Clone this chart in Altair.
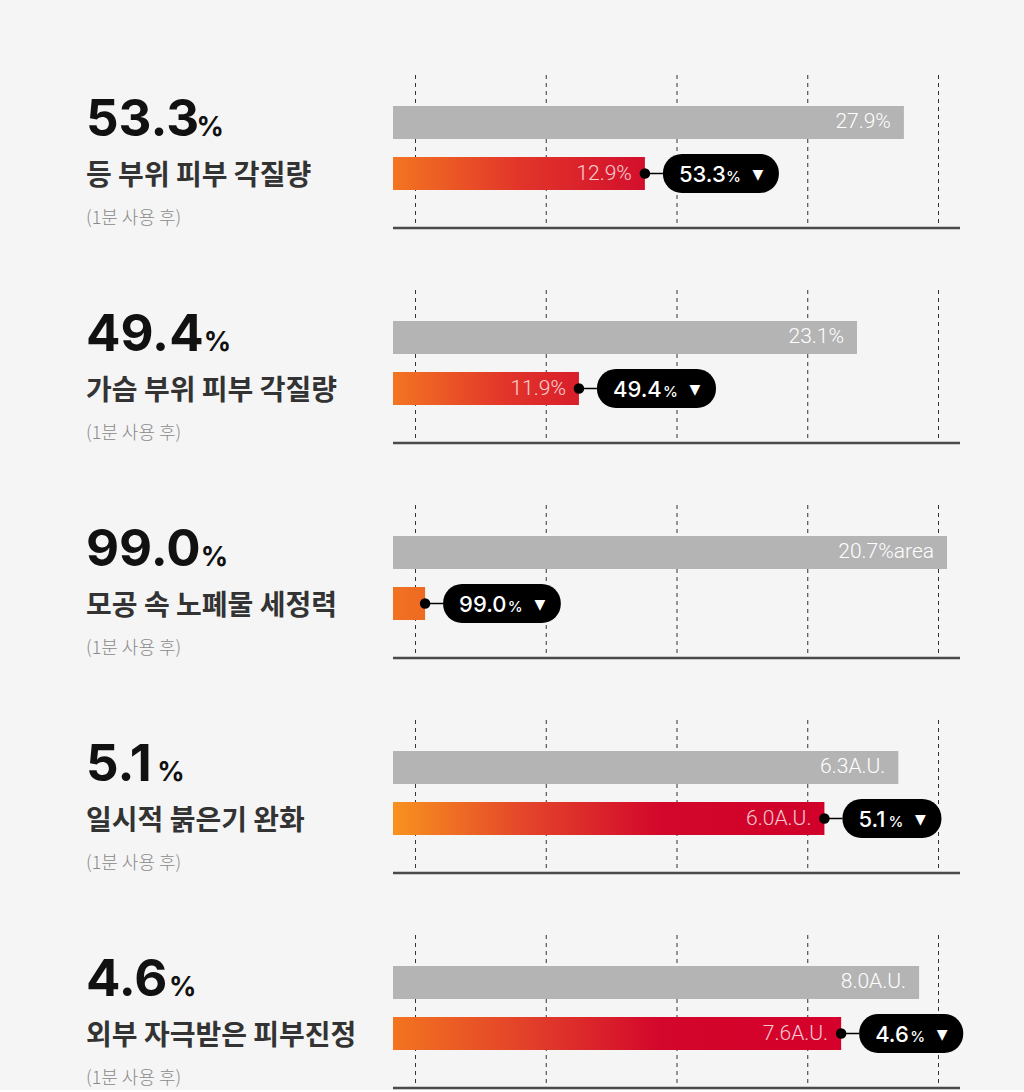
import altair as alt
import pandas as pd

# ---------------- data ----------------
metrics = ["등 부위 피부 각질량", "가슴 부위 피부 각질량", "모공 속 노폐물 세정력",
           "일시적 붉은기 완화", "외부 자극받은 피부진정"]
reductions = ["53.3", "49.4", "99.0", "5.1", "4.6"]
note_text = "(1분 사용 후)"
before_values = [27.9, 23.1, 20.7, 6.3, 8.0]
after_values = [12.9, 11.9, 0.2, 6.0, 7.6]
units = ["%", "%", "%area", "A.U.", "A.U."]
after_labeled = [True, True, False, True, True]
x_domains = [[-1.69, 31.15], [4.41, 27.25], [-1.06, 21.21], [4.25, 6.55], [5.30, 8.21]]
grid_ticks = [0, 1, 2, 3, 4]
series = ["before", "after"]

# ---------------- style ----------------
PLOT_RANGE = [393, 960]
GRID_RANGE = [415.5, 938.5]
BAND_RANGE = [91, 175]
GRID_TOP, BASE_Y = 60, 213
PANEL_H = 215
LEFT_X = 86
NUM_FONT = "Inter"
KR_FONT = "Noto Sans CJK KR"
LIGHT_FONT = "Roboto"

gradients = [
    [(0, "#F37521"), (0.5, "#E2352A"), (1, "#D30F2C")],
    [(0, "#F37521"), (0.6, "#E2352A"), (1, "#D81E2B")],
    [(0, "#F27222"), (1, "#EE6A22")],
    [(0, "#F8921E"), (0.3, "#E4462A"), (0.62, "#D3072B"), (1, "#D0002A")],
    [(0, "#F37420"), (0.3, "#E2402A"), (0.6, "#D3062B"), (1, "#D5002B")],
]

CHAR_EM = {".": 0.26, "1": 0.45, "4": 0.67, "0": 0.65, "9": 0.63, "6": 0.62}


def text_w(s, size):
    return sum(CHAR_EM.get(ch, 0.61) for ch in s) * size


def panel(i):
    dom = x_domains[i]
    lab_before = f"{before_values[i]:.1f}{units[i]}"
    lab_after = f"{after_values[i]:.1f}{units[i]}" if after_labeled[i] else ""
    bars = pd.DataFrame({
        "series": series,
        "value": [before_values[i], after_values[i]],
        "start": [dom[0], dom[0]],
        "label": [lab_before, lab_after],
        "pill": ["", reductions[i]],
    })
    info = pd.DataFrame({"big": [reductions[i]], "metric": [metrics[i]], "note": [note_text]})

    def xs(f):
        return alt.X(f"{f}:Q", scale=alt.Scale(domain=dom, range=PLOT_RANGE), axis=None)

    ys = alt.Y("series:N", scale=alt.Scale(domain=series, range=BAND_RANGE,
                                            paddingInner=0.353, paddingOuter=0), axis=None)

    base = alt.Chart(bars)
    before = base.transform_filter(alt.datum.series == "before")
    after = base.transform_filter(alt.datum.series == "after")

    grid = alt.Chart(pd.DataFrame({"g": grid_ticks})).mark_rule(
        color="#333333", strokeWidth=1, strokeDash=[4, 4]
    ).encode(
        x=alt.X("g:Q", scale=alt.Scale(domain=[0, 4], range=GRID_RANGE), axis=None),
        y=alt.value(GRID_TOP), y2=alt.value(BASE_Y),
    )
    baseline = alt.Chart(info).mark_rule(color="#4a4a4a", strokeWidth=2.5).encode(
        x=alt.value(PLOT_RANGE[0]), x2=alt.value(PLOT_RANGE[1]), y=alt.value(BASE_Y)
    )

    gray_bar = before.mark_bar(color="#B4B4B4").encode(x=xs("start"), x2="value:Q", y=ys)
    grad = alt.Gradient(
        gradient="linear",
        stops=[alt.GradientStop(offset=o, color=c) for o, c in gradients[i]],
        x1=0, x2=1, y1=0, y2=0,
    )
    red_bar = after.mark_bar(color=grad).encode(x=xs("start"), x2="value:Q", y=ys)

    gray_lab = before.mark_text(
        align="right", baseline="middle", dx=-13, font=LIGHT_FONT, fontWeight=300,
        fontSize=21, color="white"
    ).encode(x=xs("value"), y=ys, text="label:N")
    red_lab = after.mark_text(
        align="right", baseline="middle", dx=-13, font=LIGHT_FONT, fontWeight=300,
        fontSize=21, color="white", opacity=0.78
    ).encode(x=xs("value"), y=ys, text="label:N")

    num_w = text_w(reductions[i], 22)
    pill_w = num_w + 70
    gap = 18

    connector = after.mark_rule(color="black", strokeWidth=1.5, x2Offset=gap).encode(
        x=xs("value"), x2="value:Q", y=ys
    )
    dot = after.mark_circle(size=110, color="black", opacity=1).encode(x=xs("value"), y=ys)
    pill = after.mark_bar(
        color="black", cornerRadius=19, height=39, xOffset=gap, x2Offset=gap + pill_w
    ).encode(x=xs("value"), x2="value:Q", y=ys)
    pill_num = after.mark_text(
        align="left", baseline="alphabetic", dx=gap + 16, dy=8, font=NUM_FONT,
        fontWeight=500, fontSize=22, color="white"
    ).encode(x=xs("value"), y=ys, text="pill:N")
    pill_pct = after.mark_text(
        align="left", baseline="alphabetic", dx=gap + 17 + num_w, dy=8, font=NUM_FONT,
        fontWeight=500, fontSize=15, color="white", text="%"
    ).encode(x=xs("value"), y=ys)
    pill_tri = after.mark_text(
        align="center", baseline="middle", dx=gap + pill_w - 21, dy=1, font="DejaVu Sans",
        fontSize=14, color="white", text="▼"
    ).encode(x=xs("value"), y=ys)

    big_w = text_w(reductions[i], 51)
    big = alt.Chart(info).mark_text(
        align="left", baseline="alphabetic", font=NUM_FONT, fontWeight=700,
        fontSize=51, color="#111111"
    ).encode(x=alt.value(LEFT_X), y=alt.value(121), text="big:N")
    big_pct = alt.Chart(info).mark_text(
        align="left", baseline="alphabetic", font=NUM_FONT, fontWeight=700,
        fontSize=27, color="#111111", text="%"
    ).encode(x=alt.value(LEFT_X + big_w + 4), y=alt.value(121))
    metric = alt.Chart(info).mark_text(
        align="left", baseline="middle", font=KR_FONT, fontWeight=700,
        fontSize=28, color="#333333"
    ).encode(x=alt.value(LEFT_X), y=alt.value(162), text="metric:N")
    note = alt.Chart(info).mark_text(
        align="left", baseline="middle", font=KR_FONT, fontWeight=300,
        fontSize=18, color="#8a8a8a"
    ).encode(x=alt.value(LEFT_X), y=alt.value(204), text="note:N")

    return alt.layer(
        grid, baseline, gray_bar, red_bar, gray_lab, red_lab, connector, dot, pill,
        pill_num, pill_pct, pill_tri, big, big_pct, metric, note
    ).resolve_scale(x="independent").properties(width=1024, height=PANEL_H)


chart = alt.vconcat(*[panel(i) for i in range(5)], spacing=0).properties(
    padding={"left": 0, "top": 15, "right": 0, "bottom": 0},
    background="#F5F5F5",
).configure_view(stroke=None)

chart.save("out.html", embed_options={"renderer": "svg", "actions": False})
